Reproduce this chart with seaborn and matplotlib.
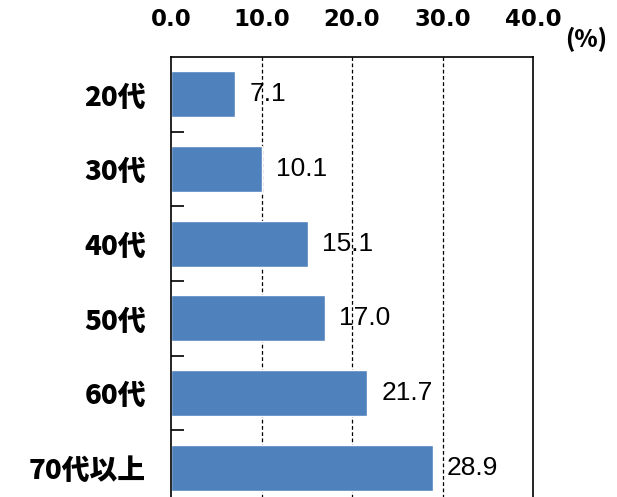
import matplotlib
matplotlib.use("Agg")
import matplotlib.pyplot as plt
import numpy as np
import pandas as pd
import seaborn as sns

# data
age_groups = ["20代", "30代", "40代", "50代", "60代", "70代以上"]
shares = [7.1, 10.1, 15.1, 17.0, 21.7, 28.9]
x_ticks = [0, 10, 20, 30, 40]

bar_color = "#4F81BD"

sns.set_style("white")
plt.rcParams["font.family"] = ["Noto Sans CJK JP", "DejaVu Sans"]
plt.rcParams["text.color"] = "black"
plt.rcParams["xtick.color"] = "black"
plt.rcParams["ytick.color"] = "black"

df = pd.DataFrame({"age": age_groups, "share": shares})

fig = plt.figure(figsize=(6.17, 4.97), dpi=100)
ax = fig.add_axes([171 / 617, 1 - 505 / 497, 362 / 617, 448 / 497])

sns.barplot(data=df, x="share", y="age", orient="h", color=bar_color,
            saturation=1, width=0.62, ax=ax)

ax.set_xlim(0, 40)
ax.set_ylim(len(age_groups) - 0.5, -0.5)
ax.xaxis.tick_top()
ax.set_xticks(x_ticks)
ax.set_xticklabels([f"{t:.1f}" for t in x_ticks], fontsize=16.5,
                   fontweight="heavy", family=["DejaVu Sans"])
ax.tick_params(axis="x", length=0, pad=19)
ax.set_yticks(range(len(age_groups)))
ax.set_yticklabels(age_groups, fontsize=20, fontweight="heavy")
ax.tick_params(axis="y", which="major", length=0, pad=18)
ax.set_yticks(np.arange(0.5, len(age_groups) - 0.5, 1), minor=True)
ax.tick_params(axis="y", which="minor", left=True, direction="in",
               length=9, width=1.2, color="black")
ax.set_xlabel("")
ax.set_ylabel("")

for x in x_ticks[1:-1]:
    ax.axvline(x, color="black", linestyle=(0, (3, 2)), linewidth=0.9,
               zorder=0)

for side in ["top", "left", "right"]:
    ax.spines[side].set_visible(True)
    ax.spines[side].set_color("black")
    ax.spines[side].set_linewidth(1.2)
ax.spines["bottom"].set_visible(False)

ax.bar_label(ax.containers[0], labels=[f"{v:.1f}" for v in shares],
             padding=10, fontsize=19, color="black",
             family=["Liberation Sans"])

fig.text(565 / 617, 1 - 40 / 497, "(%)", fontsize=17, fontweight="heavy",
         ha="left", va="center")

fig.savefig("out.png", dpi=100)
plt.close(fig)
